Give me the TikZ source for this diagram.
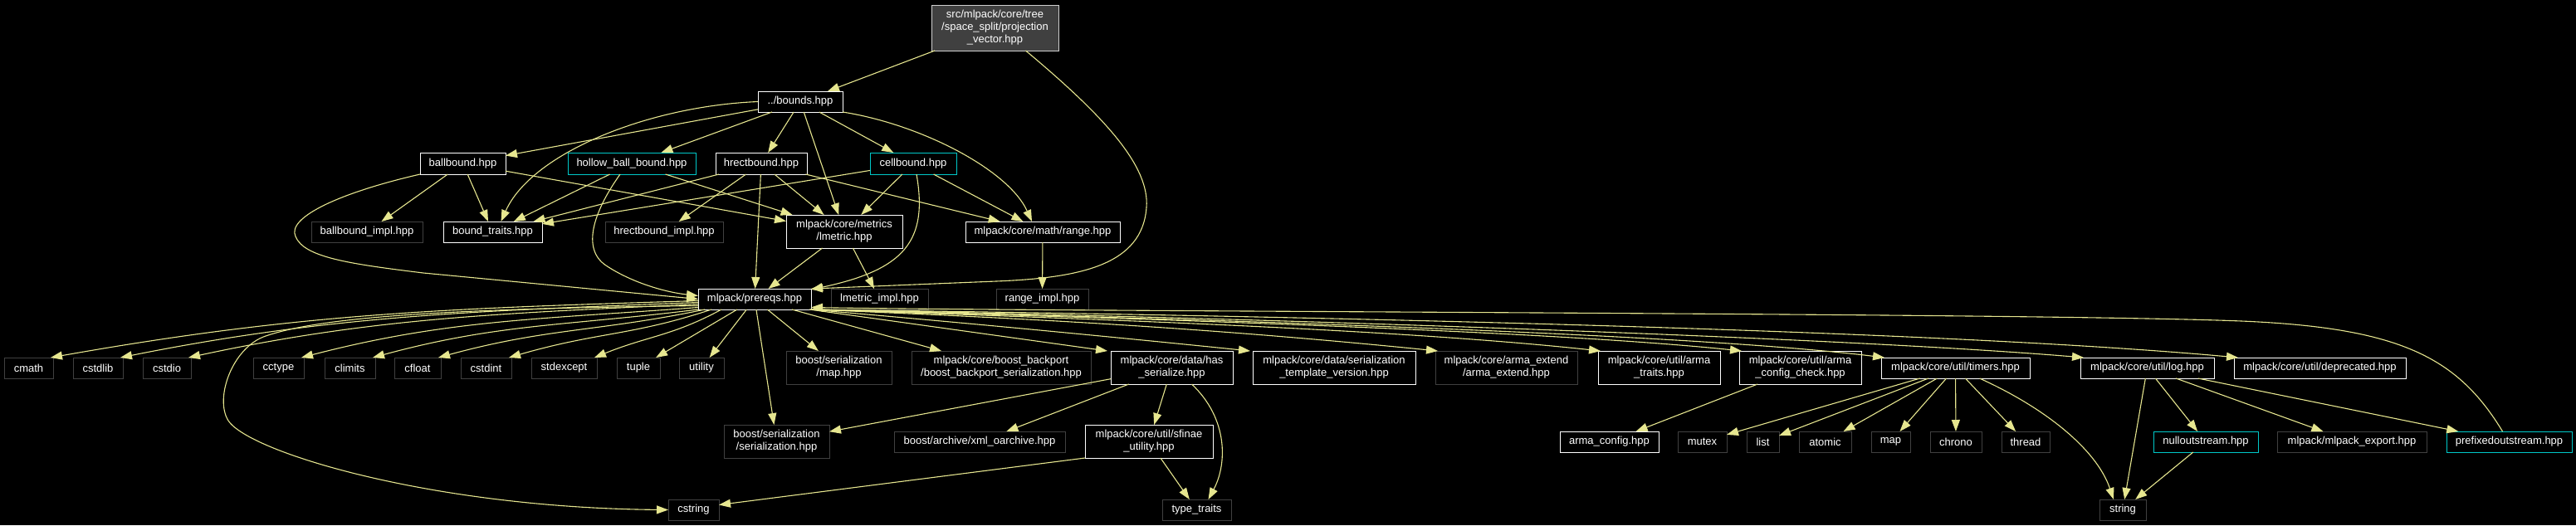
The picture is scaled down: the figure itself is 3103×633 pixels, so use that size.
\documentclass[tikz,border=0pt]{standalone}
\usepackage{fontspec}
\setmainfont{Liberation Sans}
\usetikzlibrary{arrows.meta}
\definecolor{edgec}{HTML}{E6E68F}
\definecolor{extc}{HTML}{404040}
\definecolor{trc}{HTML}{00C8C8}
\definecolor{rootfill}{HTML}{404040}
\definecolor{rootdraw}{HTML}{D0D0D0}
\tikzset{
  doc/.style={draw=white, fill=black, text=white, line width=1pt, inner sep=0pt, outer sep=0pt,
    align=center, font=\fontsize{13}{15}\selectfont, minimum height=25pt},
  ext/.style={doc, draw=extc},
  trn/.style={doc, draw=trc},
  root/.style={doc, fill=rootfill, draw=rootdraw},
  two/.style={minimum height=40pt},
  ed/.style={draw=edgec, line width=1.1pt, -{Triangle[length=14pt,width=10pt]}}
}
\begin{document}
\begin{tikzpicture}[x=1pt,y=1pt]
\fill[black] (0,0) rectangle (3103,-633);
\useasboundingbox (0,0) rectangle (3103,-633);

% level 0-1
\node[root, minimum width=153pt, minimum height=55pt] (top) at (1198.5,-33.5) {src/mlpack/core/tree\\/space\_split/projection\\\_vector.hpp};
\node[doc, minimum width=102pt] (bounds) at (964,-122.5) {../bounds.hpp};
% level 2
\node[doc, minimum width=103pt, minimum height=26pt] (ballb) at (557.5,-197) {ballbound.hpp};
\node[trn, minimum width=154pt, minimum height=26pt] (hollow) at (761,-197) {hollow\_ball\_bound.hpp};
\node[doc, minimum width=110pt, minimum height=26pt] (hrect) at (917,-197) {hrectbound.hpp};
\node[trn, minimum width=104pt, minimum height=26pt] (cell) at (1100,-197) {cellbound.hpp};
% level 3
\node[ext, minimum width=134pt] (ballimpl) at (442,-279.5) {ballbound\_impl.hpp};
\node[doc, minimum width=119pt] (btraits) at (593.5,-279.5) {bound\_traits.hpp};
\node[ext, minimum width=142pt] (hrectimpl) at (800,-279.5) {hrectbound\_impl.hpp};
\node[doc, two, minimum width=140pt] (lmetric) at (1017,-279) {mlpack/core/metrics\\/lmetric.hpp};
\node[doc, minimum width=186pt] (range) at (1256,-279.5) {mlpack/core/math/range.hpp};
% level 4
\node[doc, minimum width=136pt] (prereqs) at (909,-360.5) {mlpack/prereqs.hpp};
\node[ext, minimum width=117pt] (lmimpl) at (1059.5,-360.5) {lmetric\_impl.hpp};
\node[ext, minimum width=111pt] (rgimpl) at (1255.5,-360.5) {range\_impl.hpp};
% level 5
\node[ext, minimum width=59pt] (cmath) at (34.5,-443.5) {cmath};
\node[ext, minimum width=60pt] (cstdlib) at (118,-443.5) {cstdlib};
\node[ext, minimum width=58pt] (cstdio) at (201,-443.5) {cstdio};
\node[ext, minimum width=61pt] (cctype) at (335.5,-443.5) {cctype};
\node[ext, minimum width=61pt] (climits) at (421.5,-443.5) {climits};
\node[ext, minimum width=56pt] (cfloat) at (503,-443.5) {cfloat};
\node[ext, minimum width=61pt] (cstdint) at (585.5,-443.5) {cstdint};
\node[ext, minimum width=79pt] (stdexcept) at (679.5,-443.5) {stdexcept};
\node[ext, minimum width=52pt] (tuple) at (769,-443.5) {tuple};
\node[ext, minimum width=54pt] (utility) at (845,-443.5) {utility};
\node[ext, two, minimum width=127pt] (bmap) at (1010.5,-443) {boost/serialization\\/map.hpp};
\node[ext, two, minimum width=216pt] (backport) at (1206,-443) {mlpack/core/boost\_backport\\/boost\_backport\_serialization.hpp};
\node[doc, two, minimum width=147pt] (hasser) at (1411.5,-443) {mlpack/core/data/has\\\_serialize.hpp};
\node[doc, two, minimum width=196pt] (sertemp) at (1607,-443) {mlpack/core/data/serialization\\\_template\_version.hpp};
\node[ext, two, minimum width=171pt] (armaext) at (1814.5,-443) {mlpack/core/arma\_extend\\/arma\_extend.hpp};
\node[doc, two, minimum width=147pt] (armatr) at (1998.5,-443) {mlpack/core/util/arma\\\_traits.hpp};
\node[doc, two, minimum width=147pt] (acc) at (2168.5,-443) {mlpack/core/util/arma\\\_config\_check.hpp};
\node[doc, minimum width=179pt] (timers) at (2355.5,-443.5) {mlpack/core/util/timers.hpp};
\node[doc, minimum width=161pt] (logh) at (2586.5,-443.5) {mlpack/core/util/log.hpp};
\node[doc, minimum width=207pt] (depr) at (2794.5,-443.5) {mlpack/core/util/deprecated.hpp};
% level 6
\node[ext, two, minimum width=127pt] (serser) at (935.5,-532) {boost/serialization\\/serialization.hpp};
\node[ext, minimum width=206pt] (xmlo) at (1180,-532.5) {boost/archive/xml\_oarchive.hpp};
\node[doc, two, minimum width=154pt] (sfinae) at (1384,-532) {mlpack/core/util/sfinae\\\_utility.hpp};
\node[doc, minimum width=119pt] (armacfg) at (1938.5,-532.5) {arma\_config.hpp};
\node[ext, minimum width=59pt] (mutex) at (2050.5,-532.5) {mutex};
\node[ext, minimum width=39pt] (nlist) at (2123.5,-532.5) {list};
\node[ext, minimum width=63pt] (atomic) at (2198.5,-532.5) {atomic};
\node[ext, minimum width=47pt] (nmap) at (2277.5,-532.5) {map};
\node[ext, minimum width=62pt] (chrono) at (2356,-532.5) {chrono};
\node[ext, minimum width=58pt] (thread) at (2440,-532.5) {thread};
\node[trn, minimum width=126pt] (nullo) at (2657,-532.5) {nulloutstream.hpp};
\node[ext, minimum width=180pt] (mlexp) at (2833,-532.5) {mlpack/mlpack\_export.hpp};
\node[trn, minimum width=151pt] (prefixed) at (3022.5,-532.5) {prefixedoutstream.hpp};
% level 7
\node[ext, minimum width=61pt] (cstring) at (835.5,-614.5) {cstring};
\node[ext, minimum width=83pt] (ttraits) at (1441.5,-614.5) {type\_traits};
\node[ext, minimum width=56pt] (nstring) at (2557,-614.5) {string};

% ---- edges ----
\draw[ed] (top) -- (bounds);
\draw[ed] ([xshift=37pt]top.south) .. controls (1330,-140) and (1385,-200) .. (1381,-250)
   .. controls (1376,-320) and (1300,-335) .. (1200,-339)
   .. controls (1100,-343) and (1030,-346) .. (prereqs.north east);

\draw[ed] (bounds) -- (ballb);
\draw[ed] (bounds) -- (hollow);
\draw[ed] (bounds) -- (hrect);
\draw[ed] (bounds) -- (lmetric);
\draw[ed] (bounds) -- (cell);
\draw[ed] (bounds.south east) .. controls (1110,-150) and (1215,-205) .. ([xshift=-13pt]range.north);
\draw[ed] (bounds.west) .. controls (780,-128) and (640,-185) .. ([xshift=10pt]btraits.north);

\draw[ed] (ballb) -- (ballimpl);
\draw[ed] (ballb) -- (btraits);
\draw[ed] (ballb) -- (lmetric);
\draw[ed] (ballb.south west) .. controls (410,-232) and (345,-262) .. (356,-285)
   .. controls (366,-310) and (420,-318) .. (510,-329) -- (prereqs.west);

\draw[ed] (hollow) -- (btraits);
\draw[ed] (hollow) -- (lmetric);
\draw[ed] ([xshift=-14pt]hollow.south) .. controls (715,-255) and (700,-300) .. (730,-320)
   .. controls (760,-340) and (800,-352) .. ([yshift=4pt]prereqs.west);

\draw[ed] (hrect) -- (btraits);
\draw[ed] (hrect) -- (hrectimpl);
\draw[ed] (hrect) -- (prereqs);
\draw[ed] (hrect) -- (lmetric);
\draw[ed] (hrect) -- (range);

\draw[ed] (cell) -- (btraits);
\draw[ed] (cell) -- (lmetric);
\draw[ed] (cell) -- (range);
\draw[ed] ([xshift=4pt]cell.south) .. controls (1118,-290) and (1090,-325) .. ([yshift=-1pt]prereqs.north east);

\draw[ed] (lmetric) -- (prereqs);
\draw[ed] (lmetric) -- (lmimpl);
\draw[ed] (range) -- (rgimpl);

% prereqs fan to the left
\draw[ed] ([yshift=-2pt]prereqs.west) .. controls (530,-372) and (360,-378) .. ([xshift=-3pt]cmath.north east);
\draw[ed] ([yshift=-4pt]prereqs.west) .. controls (570,-375) and (400,-380) .. ([xshift=-3pt]cstdlib.north east);
\draw[ed] ([yshift=-6pt]prereqs.west) .. controls (600,-378) and (450,-383) .. ([xshift=-3pt]cstdio.north east);
\draw[ed] ([yshift=-10pt]prereqs.west) .. controls (650,-385) and (540,-385) .. ([xshift=-3pt]cctype.north east);
\draw[ed] (prereqs.south west) .. controls (680,-393) and (600,-390) .. ([xshift=-3pt]climits.north east);
\draw[ed] ([xshift=8pt]prereqs.south west) .. controls (720,-400) and (660,-395) .. ([xshift=-3pt]cfloat.north east);
\draw[ed] ([xshift=16pt]prereqs.south west) .. controls (760,-405) and (720,-400) .. ([xshift=-3pt]cstdint.north east);
\draw[ed] ([xshift=28pt]prereqs.south west) .. controls (810,-405) and (780,-405) .. ([xshift=-3pt]stdexcept.north east);
\draw[ed] (prereqs) -- (tuple);
\draw[ed] (prereqs) -- (utility);
\draw[ed] ([yshift=-8pt]prereqs.west) .. controls (550,-372) and (390,-381) .. (320,-405)
   .. controls (280,-418.5) and (258,-480) .. (275,-507)
   .. controls (300,-545) and (520,-612) .. (cstring.west);
\draw[ed] (prereqs) -- (serser);
% prereqs fan to the right
\draw[ed] (prereqs) -- (bmap);
\draw[ed] (prereqs) -- (backport);
\draw[ed] ([xshift=-2pt]prereqs.south east) -- ([xshift=-4pt]hasser.north west);
\draw[ed] ([xshift=-1pt]prereqs.south east) .. controls (1150,-388) and (1330,-405) .. ([xshift=-3pt]sertemp.north west);
\draw[ed] (prereqs.south east) .. controls (1277,-385) and (1482,-398) .. ([xshift=3pt]armaext.north west);
\draw[ed] (prereqs.south east) .. controls (1277,-383) and (1678,-396) .. ([xshift=3pt]armatr.north west);
\draw[ed] (prereqs.south east) .. controls (1300,-382) and (1848,-397) .. ([xshift=3pt]acc.north west);
\draw[ed] (prereqs.south east) .. controls (1350,-382) and (2020,-400) .. ([xshift=4pt]timers.north west);
\draw[ed] (prereqs.south east) .. controls (1400,-380) and (2200,-405) .. ([xshift=4pt]logh.north west);
\draw[ed] (prereqs.south east) .. controls (1450,-379) and (2300,-395) .. ([xshift=5pt]depr.north west);

\draw[ed] (hasser) -- (serser);
\draw[ed] (hasser) -- (xmlo);
\draw[ed] (hasser) -- (sfinae);
\draw[ed] ([xshift=24pt]hasser.south) .. controls (1480,-505) and (1478,-560) .. ([xshift=14pt]ttraits.north);
\draw[ed] (sfinae) -- (ttraits);
\draw[ed] (sfinae.south west) -- ([yshift=6pt]cstring.east);

\draw[ed] (acc) -- (armacfg);

\draw[ed] (timers) -- (mutex);
\draw[ed] (timers) -- (nlist);
\draw[ed] (timers) -- (atomic);
\draw[ed] (timers) -- (nmap);
\draw[ed] (timers) -- (chrono);
\draw[ed] (timers) -- (thread);
\draw[ed] ([xshift=29pt]timers.south) .. controls (2460,-490) and (2525,-540) .. ([xshift=-11pt]nstring.north);

\draw[ed] (logh) -- (nstring);
\draw[ed] (logh) -- (nullo);
\draw[ed] (logh) -- (mlexp);
\draw[ed] (logh) -- (prefixed);
\draw[ed] (nullo) -- (nstring);

\draw[ed] ([xshift=-8pt]prefixed.north) .. controls (2960,-430) and (2890,-395) .. (2700,-387)
   .. controls (2450,-377) and (1300,-376) .. ([yshift=-10pt]prereqs.east);
\end{tikzpicture}
\end{document}
